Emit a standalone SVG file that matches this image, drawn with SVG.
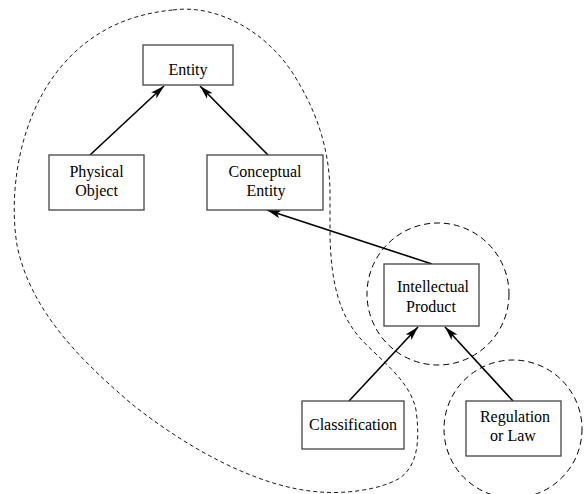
<svg xmlns="http://www.w3.org/2000/svg" width="585" height="494" viewBox="0 0 585 494">
<style>
.box{fill:#fff;stroke:#444;stroke-width:1.3}
.lbl{font-family:"Liberation Serif","Times New Roman",serif;font-size:16px;fill:#000;text-anchor:middle}
.edge{stroke:#000;stroke-width:1.6;fill:none;marker-end:url(#arr)}
.blob{fill:none;stroke:#000;stroke-width:0.9;stroke-dasharray:4 3}
.circ{fill:none;stroke:#000;stroke-width:1;stroke-dasharray:6 4}
</style>
<defs>
<marker id="arr" viewBox="0 0 14 10" refX="14" refY="5" markerWidth="14" markerHeight="10" markerUnits="userSpaceOnUse" orient="auto">
<path d="M0,1 L14,5 L0,9 L3.5,5 Z" fill="#000"/>
</marker>
</defs>
<g id="regions">
<path class="blob" d="M173,10 C215,4 268,30 297,80 C318,115 329,150 330,190 L330,235 C331,285 340,315 360,338 C380,360 410,380 416,410 C420,440 418,465 400,478 C380,490 345,494 320,492 C260,488 190,450 133,405 C80,360 30,310 17,245 C8,190 20,110 67,60 C95,30 130,14 173,10 Z"/>
<circle class="circ" cx="438" cy="294" r="71"/>
<circle class="circ" cx="513" cy="429" r="69"/>
</g>
<g id="connectors">
<line class="edge" x1="90" y1="155" x2="164" y2="86"/>
<line class="edge" x1="268" y1="155" x2="200" y2="86"/>
<line class="edge" x1="432" y1="264" x2="267" y2="210"/>
<line class="edge" x1="349" y1="401" x2="418" y2="327"/>
<line class="edge" x1="513" y1="401" x2="445" y2="327"/>
</g>
<g id="entity">
<rect class="box" x="143" y="45" width="90" height="40"/>
<text class="lbl" x="188" y="75">Entity</text>
</g>
<g id="physical-object">
<rect class="box" x="49" y="155" width="95" height="55"/>
<text class="lbl" x="96.5" y="177">Physical</text>
<text class="lbl" x="96.5" y="196">Object</text>
</g>
<g id="conceptual-entity">
<rect class="box" x="207" y="155" width="116" height="55"/>
<text class="lbl" x="265" y="177">Conceptual</text>
<text class="lbl" x="266" y="196">Entity</text>
</g>
<g id="intellectual-product">
<rect class="box" x="384" y="264" width="95" height="62"/>
<text class="lbl" x="433" y="292">Intellectual</text>
<text class="lbl" x="431" y="312">Product</text>
</g>
<g id="classification">
<rect class="box" x="302" y="401" width="102" height="48"/>
<text class="lbl" x="353" y="430">Classification</text>
</g>
<g id="regulation">
<rect class="box" x="466" y="401" width="95" height="55"/>
<text class="lbl" x="515" y="422">Regulation</text>
<text class="lbl" x="513" y="441">or Law</text>
</g>
</svg>
